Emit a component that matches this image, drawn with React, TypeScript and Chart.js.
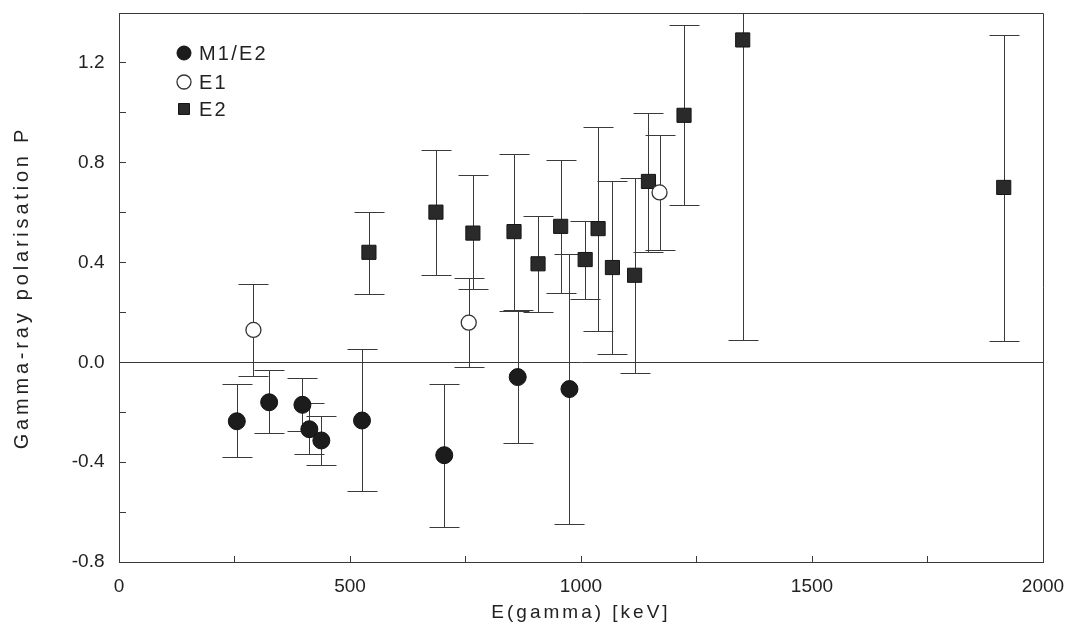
import React, { useEffect, useRef } from "react";
import { Chart, registerables } from "chart.js";

Chart.register(...registerables);

// ---------- data ----------
const seriesLabels = ["M1/E2", "E1", "E2"];

const m1e2Energy = [255, 325, 397, 412, 438, 526, 704, 863, 975];
const m1e2P = [-0.236, -0.16, -0.17, -0.268, -0.313, -0.233, -0.372, -0.059, -0.107];
const m1e2Upper = [-0.088, -0.031, -0.062, -0.162, -0.214, 0.052, -0.086, 0.209, 0.435];
const m1e2Lower = [-0.381, -0.285, -0.276, -0.369, -0.411, -0.515, -0.661, -0.323, -0.646];

const e1Energy = [291, 757, 1170];
const e1P = [0.13, 0.159, 0.681];
const e1Upper = [0.313, 0.34, 0.912];
const e1Lower = [-0.054, -0.018, 0.451];

const e2Energy = [541, 686, 766, 855, 907, 956, 1009, 1037, 1068, 1116, 1146, 1223, 1350, 1915];
const e2P = [0.441, 0.602, 0.518, 0.524, 0.395, 0.545, 0.412, 0.536, 0.38, 0.349, 0.725, 0.99, 1.292, 0.701];
const e2Upper = [0.604, 0.852, 0.749, 0.835, 0.587, 0.812, 0.567, 0.943, 0.725, 0.738, 1.0, 1.35, 2.5, 1.311];
const e2Lower = [0.274, 0.349, 0.293, 0.207, 0.203, 0.279, 0.255, 0.127, 0.033, -0.042, 0.444, 0.631, 0.088, 0.087];

const xLabelValues = [0, 500, 1000, 1500, 2000];
const yLabelValues = [-0.8, -0.4, 0.0, 0.4, 0.8, 1.2];

const xTitle = "E(gamma) [keV]";
const yTitle = "Gamma-ray polarisation P";

// ---------- styling ----------
const FONT = "'Liberation Sans', Arial, Helvetica, sans-serif";
const INK = "#222222";
const LINE = "#3a3a3a";

const toPoints = (xs: number[], ys: number[]) => xs.map((x, i) => ({ x, y: ys[i] }));

const errorSets = [
  { upper: m1e2Upper, lower: m1e2Lower },
  { upper: e1Upper, lower: e1Lower },
  { upper: e2Upper, lower: e2Lower },
];

const errorBarPlugin = {
  id: "errorBars",
  beforeDatasetsDraw(chart: any) {
    const { ctx, chartArea, scales } = chart;
    const xs = scales.x;
    const ys = scales.y;
    ctx.save();
    ctx.beginPath();
    ctx.rect(chartArea.left, chartArea.top, chartArea.right - chartArea.left, chartArea.bottom - chartArea.top);
    ctx.clip();
    ctx.strokeStyle = LINE;
    ctx.lineWidth = 1;
    chart.data.datasets.forEach((ds: any, di: number) => {
      const err = errorSets[di];
      ds.data.forEach((pt: any, i: number) => {
        const px = Math.round(xs.getPixelForValue(pt.x)) + 0.5;
        const yHi = Math.round(ys.getPixelForValue(err.upper[i])) + 0.5;
        const yLo = Math.round(ys.getPixelForValue(err.lower[i])) + 0.5;
        ctx.beginPath();
        ctx.moveTo(px, yHi);
        ctx.lineTo(px, yLo);
        ctx.moveTo(px - 15, yHi);
        ctx.lineTo(px + 15, yHi);
        ctx.moveTo(px - 15, yLo);
        ctx.lineTo(px + 15, yLo);
        ctx.stroke();
      });
    });
    ctx.restore();
  },
};

const framePlugin = {
  id: "frame",
  beforeDatasetsDraw(chart: any) {
    const { ctx, chartArea } = chart;
    ctx.save();
    ctx.strokeStyle = LINE;
    ctx.lineWidth = 1;
    ctx.beginPath();
    ctx.moveTo(chartArea.left, Math.round(chartArea.top) + 0.5);
    ctx.lineTo(Math.round(chartArea.right) + 0.5, Math.round(chartArea.top) + 0.5);
    ctx.lineTo(Math.round(chartArea.right) + 0.5, chartArea.bottom);
    ctx.stroke();
    ctx.restore();
  },
};

const spacedTitlePlugin = {
  id: "spacedTitles",
  beforeDraw(chart: any) {
    const spacing: Record<string, string> = { x: "3px", y: "3.8px" };
    Object.keys(spacing).forEach((id) => {
      const sc = chart.scales[id];
      if (!sc || sc.__spaced) return;
      const orig = sc.drawTitle.bind(sc);
      sc.drawTitle = function () {
        const c: any = this.ctx;
        const prev = c.letterSpacing;
        c.letterSpacing = spacing[id];
        orig();
        c.letterSpacing = prev || "0px";
      };
      sc.__spaced = true;
    });
  },
};

const legendPlugin = {
  id: "insideLegend",
  afterDatasetsDraw(chart: any) {
    const { ctx } = chart;
    const rows = [53, 82, 109];
    const mx = 184;
    ctx.save();
    chart.data.datasets.forEach((ds: any, i: number) => {
      const y = rows[i];
      ctx.fillStyle = ds.backgroundColor;
      ctx.strokeStyle = ds.borderColor;
      ctx.lineWidth = ds.borderWidth;
      ctx.beginPath();
      if (ds.pointStyle === "rect") {
        ctx.rect(mx - 5.5, y - 5.5, 11, 11);
      } else {
        ctx.arc(mx, y, 7, 0, Math.PI * 2);
      }
      ctx.fill();
      ctx.stroke();
      ctx.fillStyle = INK;
      ctx.font = `20px ${FONT}`;
      (ctx as any).letterSpacing = "2.2px";
      ctx.textAlign = "left";
      ctx.textBaseline = "middle";
      ctx.fillText(ds.label, 199, y + 1);
      (ctx as any).letterSpacing = "0px";
    });
    ctx.restore();
  },
};

export default function App() {
  const canvasRef = useRef<HTMLCanvasElement | null>(null);

  useEffect(() => {
    if (!canvasRef.current) return;
    const chart = new Chart(canvasRef.current, {
      type: "scatter",
      data: {
        datasets: [
          {
            label: seriesLabels[0],
            data: toPoints(m1e2Energy, m1e2P),
            pointStyle: "circle",
            pointRadius: 8.5,
            backgroundColor: "#1c1c1c",
            borderColor: "#111111",
            borderWidth: 1,
          },
          {
            label: seriesLabels[1],
            data: toPoints(e1Energy, e1P),
            pointStyle: "circle",
            pointRadius: 7.5,
            backgroundColor: "#ffffff",
            borderColor: "#333333",
            borderWidth: 1.3,
          },
          {
            label: seriesLabels[2],
            data: toPoints(e2Energy, e2P),
            pointStyle: "rect",
            pointRadius: 10,
            backgroundColor: "#2a2a2a",
            borderColor: "#151515",
            borderWidth: 1,
          },
        ],
      },
      options: {
        responsive: false,
        animation: false,
        devicePixelRatio: 1,
        layout: { padding: { top: 13, right: 29, left: 0, bottom: 0 } },
        plugins: {
          legend: { display: false },
          tooltip: { enabled: false },
        },
        scales: {
          x: {
            type: "linear",
            min: 0,
            max: 2000,
            afterFit: (scale: any) => {
              scale.height = 65;
              scale.paddingLeft = 0;
              scale.paddingRight = 0;
              scale.paddingTop = 0;
              scale.paddingBottom = 0;
            },
            ticks: {
              stepSize: 250,
              padding: 19,
              color: INK,
              font: { family: FONT, size: 19 },
              maxRotation: 0,
              autoSkip: false,
              callback: (v: any) => (xLabelValues.includes(Number(v)) ? String(v) : ""),
            },
            grid: {
              drawOnChartArea: false,
              drawTicks: true,
              tickLength: -6,
              tickColor: LINE,
            },
            border: { display: true, color: LINE, width: 1 },
            title: {
              display: true,
              text: xTitle,
              color: INK,
              font: { family: FONT, size: 19 },
              padding: { top: 0, bottom: 3 },
            },
          },
          y: {
            type: "linear",
            min: -0.8,
            max: 1.4,
            afterFit: (scale: any) => {
              scale.width = 119;
              scale.paddingLeft = 0;
              scale.paddingRight = 0;
              scale.paddingTop = 0;
              scale.paddingBottom = 0;
            },
            ticks: {
              stepSize: 0.2,
              padding: 21.5,
              color: INK,
              font: { family: FONT, size: 19 },
              autoSkip: false,
              callback: (v: any) => {
                const n = Math.round(Number(v) * 10) / 10;
                return yLabelValues.some((t) => Math.abs(t - n) < 1e-6) ? n.toFixed(1) : "";
              },
            },
            grid: {
              drawOnChartArea: true,
              drawTicks: true,
              tickLength: -7,
              tickColor: LINE,
              color: (c: any) => (c.tick && Math.abs(c.tick.value) < 1e-9 ? LINE : "rgba(0,0,0,0)"),
            },
            border: { display: true, color: LINE, width: 1 },
            title: {
              display: true,
              text: yTitle,
              color: INK,
              font: { family: FONT, size: 20 },
              padding: { top: 10, bottom: 0 },
            },
          },
        },
      },
      plugins: [errorBarPlugin, framePlugin, spacedTitlePlugin, legendPlugin],
    } as any);
    return () => chart.destroy();
  }, []);

  return (
    <div style={{ position: "fixed", left: 0, top: 0, width: 1072, height: 627, background: "#ffffff" }}>
      <canvas ref={canvasRef} width={1072} height={627} />
    </div>
  );
}
